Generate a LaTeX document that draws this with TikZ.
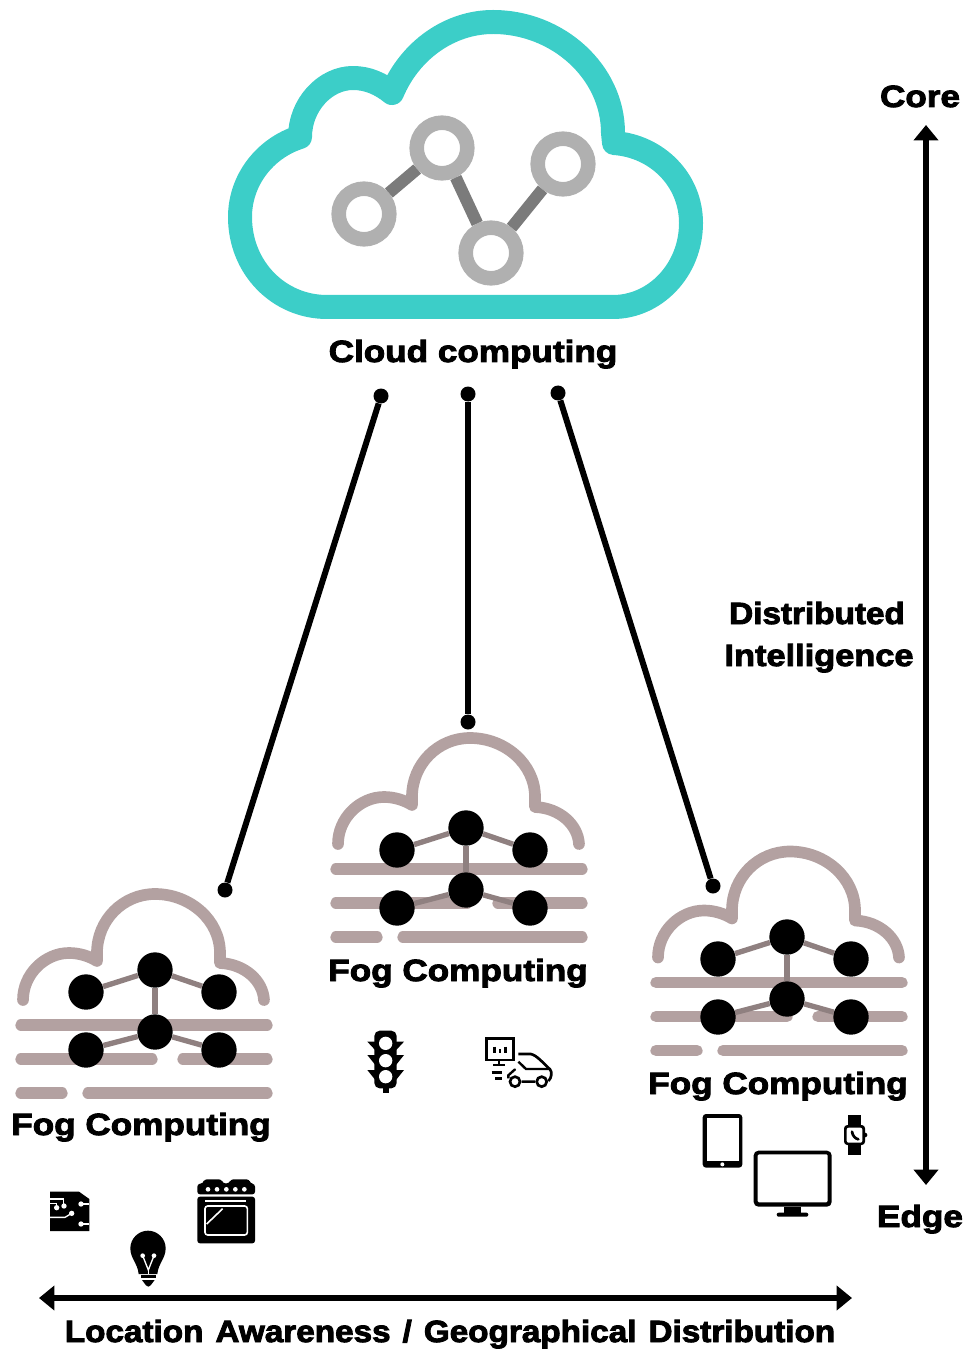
\documentclass[tikz,border=0pt]{standalone}
\usepackage{fontspec}
\usetikzlibrary{arrows.meta}
\newfontfamily\labfont[FakeBold=3,FakeStretch=1.145,WordSpace=1]{Liberation Sans Bold}
\newfontfamily\labmid[FakeBold=3,FakeStretch=1.12,WordSpace=1]{Liberation Sans Bold}
\newfontfamily\labnarrow[FakeBold=3,FakeStretch=1.085,WordSpace=1.3]{Liberation Sans Bold}
\definecolor{teal1}{HTML}{3CCEC8}
\definecolor{ringg}{HTML}{B0B0B0}
\definecolor{edgeg}{HTML}{7B7B7B}
\definecolor{fogc}{HTML}{B3A1A1}
\definecolor{fogedge}{HTML}{8F8080}
\tikzset{
  lab/.style={anchor=base,inner sep=0pt,font=\labfont\fontsize{23}{23}\selectfont},
  labm/.style={anchor=base,inner sep=0pt,font=\labmid\fontsize{23}{23}\selectfont},
  labn/.style={anchor=base,inner sep=0pt,font=\labnarrow\fontsize{23}{23}\selectfont},
  ring/.style={circle,draw=ringg,fill=white,line width=10.9pt,minimum size=38pt,inner sep=0pt},
  ringedge/.style={draw=edgeg,line width=9pt},
  fognode/.style={circle,fill=black,minimum size=26.5pt,inner sep=0pt},
  fogedgeline/.style={draw=fogedge,line width=4pt},
  fogline/.style={draw=fogc,line width=8.5pt,line cap=round},
  dotend/.style={circle,fill=black,minimum size=11.25pt,inner sep=0pt},
  link/.style={draw=black,line width=4.5pt},
  axis/.style={draw=black,line width=4.5pt,{Triangle[width=18pt,length=11.5pt]}-{Triangle[width=18pt,length=11.5pt]}},
  fogcloud/.pic={
    \draw[fogline] (336,869) -- (582,869);
    \draw[fogline] (336,903) -- (467,903);
    \draw[fogline] (498,903) -- (582,903);
    \draw[fogline] (336,937) -- (377,937);
    \draw[fogline] (403,937) -- (582,937);
    \draw[draw=fogc,line width=8.75pt,line cap=round,line join=round]
      (338,844) .. controls (338,818) and (360,797) .. (384,797)
      .. controls (394,797) and (404,800) .. (412,805) -- (412,797)
      .. controls (412,764) and (438,738) .. (470,738)
      .. controls (505,738) and (535,764) .. (535,797) -- (535,807)
      .. controls (560,808) and (578,825) .. (579,844);
  },
  fognet/.pic={
    \node[fognode] (n1) at (397,850) {};
    \node[fognode] (n2) at (466,828) {};
    \node[fognode] (n3) at (530,850) {};
    \node[fognode] (n4) at (397,908) {};
    \node[fognode] (n5) at (466,890) {};
    \node[fognode] (n6) at (530,908) {};
    \draw[fogedgeline] (n1) -- (n2);
    \draw[fogedgeline] (n2) -- (n3);
    \draw[fogedgeline] (n2) -- (n5);
    \draw[fogedgeline] (n4) -- (n5);
    \draw[fogedgeline] (n5) -- (n6);
  }
}
\begin{document}
\begin{tikzpicture}[x=0.75pt,y=-0.75pt]
\useasboundingbox (0,0) rectangle (966,1351);
% main cloud
\draw[draw=teal1,line width=18pt,line join=round]
  (327,307) .. controls (279,307) and (240,268) .. (240,217)
  .. controls (240,180) and (265,148) .. (300,137)
  .. controls (300,105) and (325,78) .. (353,78)
  .. controls (368,78) and (381,84) .. (392,93)
  .. controls (410,50) and (450,22) .. (493,22)
  .. controls (558,22) and (613,72) .. (613,133) -- (614,143)
  .. controls (657,146) and (691,180) .. (691,223)
  .. controls (691,270) and (655,307) .. (613,307) -- cycle;
\node[ring] (r1) at (364,214) {};
\node[ring] (r2) at (442,148) {};
\node[ring] (r3) at (491,253) {};
\node[ring] (r4) at (563,164) {};
\path[ringedge] (r1) -- (r2);
\path[ringedge] (r2) -- (r3);
\path[ringedge] (r3) -- (r4);
\node[lab] (cloudlab) at (473,362) {Cloud computing};
% fog clouds
\pic (cm-) at (0,0) {fogcloud};
\pic (cl-) at (-315,156) {fogcloud};
\pic (cr-) at (320,113.5) {fogcloud};
\pic (fm-) at (0,0) {fognet};
\pic (fl-) at (-311,142) {fognet};
\pic (fr-) at (321,109) {fognet};
\node[lab] (fmlab) at (458,981) {Fog Computing};
\node[lab] (fllab) at (141,1135) {Fog Computing};
\node[lab] (frlab) at (778,1094) {Fog Computing};
% links
\node[dotend] (a1) at (381,396) {};
\node[dotend] (a2) at (468,394) {};
\node[dotend] (a3) at (558,393) {};
\node[dotend] (b1) at (225,890) {};
\node[dotend] (b2) at (468,722) {};
\node[dotend] (b3) at (713,886) {};
\draw[link] (a1) -- (b1);
\draw[link] (a2) -- (b2);
\draw[link] (a3) -- (b3);
% axes
\coordinate (coreend) at (926,125);
\coordinate (edgeend) at (926,1185);
\coordinate (leftend) at (39,1298);
\coordinate (rightend) at (852,1298);
\draw[axis] (coreend) -- (edgeend);
\draw[axis] (leftend) -- (rightend);
\node[lab] (core) at (920,107) {Core};
\node[lab] (edge) at (920,1227) {Edge};
\node[labn] (dist) at (817,624) {Distributed};
\node[labm] (intel) at (819,666) {Intelligence};
\node[labn] (loc) at (450,1342) {Location Awareness / Geographical Distribution};
% icons: left group
\begin{scope}[shift={(0,1100)},x=0.25pt,y=-0.25pt]
  % chip
  \fill (150,275) -- (237,275) -- (268,297) -- (268,393) -- (150,393) -- cycle;
  \draw[white,line width=1pt] (150,297) -- (190,297) -- (190,318);
  \draw[white,line width=1pt] (150,310) -- (170,310) -- (170,322);
  \draw[white,line width=1pt] (268,312) -- (243,312);
  \draw[white,line width=1pt] (150,352) -- (195,352) -- (215,340);
  \draw[white,line width=1pt] (268,372) -- (243,372);
  \foreach \p in {(192,318),(170,323),(243,312),(215,340),(243,372)} \fill[white] \p circle (8);
  % bulb
  \fill (444,392) .. controls (473,392) and (497,416) .. (497,445)
    .. controls (497,475) and (475,490) .. (472,522) -- (416,522)
    .. controls (413,490) and (391,475) .. (391,445)
    .. controls (391,416) and (415,392) .. (444,392) -- cycle;
  \fill (422,526) -- (468,526) -- (468,535) -- (422,535) -- cycle;
  \fill (426,540) -- (464,540) -- (452,556) -- (445,560) -- (438,556) -- cycle;
  \draw[white,line width=1pt] (428,467) -- (445,510) -- (462,467);
  \draw[white,line width=1pt] (445,510) -- (445,522);
  \fill[white] (428,467) circle (7) (462,467) circle (7);
  % oven
  \fill[rounded corners=2pt] (592,283) -- (592,252) -- (610,250) -- (612,238) -- (665,238) -- (668,250) -- (688,250) -- (692,238) -- (748,238) -- (750,250) -- (765,252) -- (765,283) -- cycle;
  \fill[rounded corners=2pt] (592,290) rectangle (765,430);
  \foreach \xx in {624,651,679,706,733} \fill[white] (\xx,268) circle (7);
  \draw[white,line width=1.2pt] (615,303) -- (738,303);
  \draw[white,line width=1.2pt,rounded corners=2pt] (615,318) rectangle (742,405);
  \draw[white,line width=1.2pt] (620,372) -- (668,326);
\end{scope}
% icons: middle group
\begin{scope}[shift={(340,1010)},x=0.25pt,y=-0.25pt]
  \fill[rounded corners=4pt] (103,235) -- (103,62) -- (170,62) -- (170,235) -- cycle;
  \fill (82,95) -- (110,95) -- (110,125) -- cycle;
  \fill (82,135) -- (110,135) -- (110,170) -- cycle;
  \fill (82,180) -- (110,180) -- (110,215) -- cycle;
  \fill (192,95) -- (164,95) -- (164,125) -- cycle;
  \fill (192,135) -- (164,135) -- (164,170) -- cycle;
  \fill (192,180) -- (164,180) -- (164,215) -- cycle;
  \fill (128,230) rectangle (146,250);
  \fill[white] (137,100) circle (20) (137,152) circle (20) (137,200) circle (20);
  \draw[line width=2pt] (440,85) rectangle (520,150);
  \draw[line width=1.7pt] (478,150) -- (478,165) (460,166) -- (496,166);
  \draw[line width=2pt] (463,110) -- (463,130) (480,118) -- (480,130) (497,110) -- (497,130);
  \draw[line width=2pt,line join=round] (535,132) -- (572,132) .. controls (590,135) and (610,160) .. (630,178) .. controls (637,185) and (635,205) .. (625,213);
  \draw[line width=1.8pt] (535,155) -- (558,177) -- (630,177);
  \draw[line width=2pt] (525,215) circle (15) (605,215) circle (15);
  \draw[line width=1.8pt] (545,215) -- (585,215) (505,205) -- (505,196) -- (525,178);
  \fill (525,178) circle (3);
  \draw[line width=1.8pt] (455,187) -- (485,187) (465,205) -- (485,205);
\end{scope}
% icons: right group
\begin{scope}[shift={(680,1100)},x=0.25pt,y=-0.25pt]
  \fill[rounded corners=2.5pt] (68,42) rectangle (187,203);
  \fill[white] (80,53) rectangle (176,182);
  \fill[white] (127,193) circle (6);
  \fill[rounded corners=3.5pt] (221,152) rectangle (455,320);
  \fill[white,rounded corners=1pt] (233,163) rectangle (443,307);
  \fill (312,320) rectangle (362,340);
  \fill[rounded corners=1.5pt] (290,338) rectangle (385,350);
  \fill (505,45) rectangle (542,165);
  \fill (555,105) circle (7);
  \fill[rounded corners=2.5pt] (492,75) rectangle (555,135);
  \fill[white,rounded corners=1.5pt] (500,83) rectangle (547,128);
  \draw[line width=2pt,line cap=round] (516,95) .. controls (518,108) and (525,115) .. (535,118);
\end{scope}
\end{tikzpicture}
\end{document}
